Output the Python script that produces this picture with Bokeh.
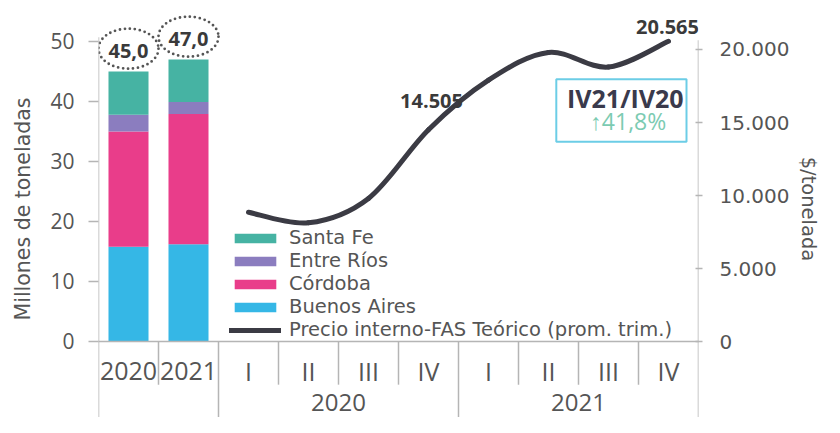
from bokeh.plotting import figure
from bokeh.models import (Range1d, LinearAxis, FixedTicker, Legend, LegendItem,
                          ColumnDataSource)
from bokeh.core.properties import value
from bokeh.embed import file_html
from bokeh.resources import INLINE

# ---------------- data ----------------
bar_years = ["2020", "2021"]
buenos_aires = [15.8, 16.2]
cordoba = [19.2, 21.7]
entre_rios = [2.8, 2.0]
santa_fe = [7.2, 7.1]

quarter_years = ["2020", "2020", "2020", "2020", "2021", "2021", "2021", "2021"]
quarters = ["I", "II", "III", "IV", "I", "II", "III", "IV"]
price = [8850, 8130, 9800, 14505, 17900, 19800, 18800, 20565]

left_ticks = [0, 10, 20, 30, 40, 50]
right_ticks = [0, 5000, 10000, 15000, 20000]
right_tick_labels = ["0", "5.000", "10.000", "15.000", "20.000"]

series_names = ["Buenos Aires", "Córdoba", "Entre Ríos", "Santa Fe"]
series_colors = ["#35b7e6", "#e93d8a", "#8b7dbf", "#46b3a3"]
line_name = "Precio interno-FAS Teórico (prom. trim.)"
line_color = "#3b3b44"

FONT = "Open Sans"
WIDE = "DejaVu Sans"
GREY = "#555555"
DARK = "#3a3a3a"
AXIS = "#b5b5b5"

# ---------------- categories ----------------
cats = [("", y) for y in bar_years] + list(zip(quarter_years, quarters))
ncat = len(cats)
xpos = [i + 0.5 for i in range(ncat)]
bar_x = xpos[:len(bar_years)]
line_x = xpos[len(bar_years):]

Y_BOTTOM = -12.67
p = figure(width=824, height=417, output_backend="svg", toolbar_location=None,
           x_range=Range1d(0, ncat), y_range=Range1d(Y_BOTTOM, 56.83),
           x_axis_location=None, min_border_left=98, min_border_right=126,
           min_border_top=0, min_border_bottom=0)
p.extra_y_ranges = {"price": Range1d(-5205, 23356)}
p.grid.visible = False
p.outline_line_color = None
p.background_fill_color = "white"
p.border_fill_color = "white"

# left axis
la = p.left[0]
la.ticker = FixedTicker(ticks=left_ticks)
la.axis_line_color = None
la.major_tick_line_color = AXIS
la.major_tick_line_width = 1.5
la.major_tick_out = 10
la.major_tick_in = 0
la.minor_tick_line_color = None
la.major_label_standoff = 14
la.major_label_text_font = FONT
la.major_label_text_font_size = "21px"
la.major_label_text_color = GREY
la.axis_label = "Millones de toneladas"
la.axis_label_text_font = WIDE
la.axis_label_text_font_size = "20.5px"
la.axis_label_text_font_style = "normal"
la.axis_label_text_color = GREY
la.axis_label_standoff = 12

# right axis
ra = LinearAxis(y_range_name="price", ticker=FixedTicker(ticks=right_ticks),
                major_label_overrides=dict(zip(right_ticks, right_tick_labels)))
ra.axis_line_color = None
ra.major_tick_line_color = AXIS
ra.major_tick_line_width = 1.5
ra.major_tick_out = 4
ra.major_tick_in = 3
ra.minor_tick_line_color = None
ra.major_label_standoff = 17
ra.major_label_text_font = WIDE
ra.major_label_text_font_size = "20px"
ra.major_label_text_color = GREY
ra.axis_label = "$/tonelada"
ra.axis_label_text_font = WIDE
ra.axis_label_text_font_size = "19.5px"
ra.axis_label_text_font_style = "normal"
ra.axis_label_text_color = GREY
ra.axis_label_standoff = 5
p.add_layout(ra, "right")

# ---------------- bars ----------------
src = ColumnDataSource(dict(x=bar_x, ba=buenos_aires, cba=cordoba,
                            er=entre_rios, sf=santa_fe))
bars = p.vbar_stack(["ba", "cba", "er", "sf"], x="x", width=0.667, source=src,
                    fill_color=series_colors, line_color=None)

totals = [a + b + c + d for a, b, c, d in zip(buenos_aires, cordoba, entre_rios, santa_fe)]
total_labels = [f"{t:.1f}".replace(".", ",") for t in totals]
tot_src = ColumnDataSource(dict(x=bar_x, y=[t + 3.8 for t in totals], t=total_labels))
p.ellipse(x="x", y="y", width=60, height=40, width_units="screen", height_units="screen",
          source=tot_src, fill_color=None, line_color="#555555", line_width=2.8,
          line_dash="0 5", line_cap="round")
p.text(x="x", y="y", text="t", source=tot_src, text_align="center",
       text_baseline="middle", text_font=value(FONT), text_font_size="20px",
       text_font_style="bold", text_color=DARK, y_offset=2)

# ---------------- smoothed price line (bezier through the data points) ----------------
n = len(price)
x0s, y0s, x1s, y1s, cx0s, cy0s, cx1s, cy1s = ([] for _ in range(8))
for i in range(n - 1):
    a = max(i - 1, 0)
    d = min(i + 2, n - 1)
    x0s.append(line_x[i]); y0s.append(price[i])
    x1s.append(line_x[i + 1]); y1s.append(price[i + 1])
    cx0s.append(line_x[i] + (line_x[i + 1] - line_x[a]) / 6)
    cy0s.append(price[i] + (price[i + 1] - price[a]) / 6)
    cx1s.append(line_x[i + 1] - (line_x[d] - line_x[i]) / 6)
    cy1s.append(price[i + 1] - (price[d] - price[i]) / 6)
bz = p.bezier(x0=x0s, y0=y0s, x1=x1s, y1=y1s, cx0=cx0s, cy0=cy0s, cx1=cx1s, cy1=cy1s,
              y_range_name="price", line_color=line_color, line_width=5, line_cap="round")

# value labels
lab_idx = [3, 7]
p.text(x=[line_x[i] for i in lab_idx], y=[price[i] for i in lab_idx],
       text=[f"{price[i]:,}".replace(",", ".") for i in lab_idx],
       y_range_name="price", text_align="center", text_baseline="middle",
       text_font=value(FONT), text_font_size="20px", text_font_style="bold",
       text_color=DARK, x_offset=[3, -1], y_offset=[-29, -14])

# IV21/IV20 box
pct = (price[-1] / price[3] - 1) * 100
p.quad(left=7.63, right=9.8, top=43.7, bottom=33.3, fill_color=None,
       line_color="#6ccde6", line_width=2)
p.text(x=[8.78], y=[40.5], text=["IV21/IV20"], text_align="center",
       text_baseline="middle", text_font=value(FONT), text_font_size="25px",
       text_font_style="bold", text_color="#3a3a4c")
p.text(x=[8.83], y=[36.7], text=[f"\u2191{pct:.1f}%".replace(".", ",")],
       text_align="center", text_baseline="middle", text_font=value(FONT),
       text_font_size="23px", text_color="#7ccbb2")

# ---------------- category axis (drawn) ----------------
short_sep = [i for i in range(1, ncat) if cats[i][0] == cats[i - 1][0]]
group_sep = [i for i in range(1, ncat) if cats[i][0] != cats[i - 1][0]]
edge_sep = [0, ncat]
p.segment(x0=short_sep, x1=short_sep, y0=[0] * len(short_sep), y1=[-7.2] * len(short_sep),
          line_color=AXIS, line_width=1.5)
p.segment(x0=group_sep, x1=group_sep, y0=[0] * len(group_sep), y1=[Y_BOTTOM] * len(group_sep),
          line_color=AXIS, line_width=1.5)
p.segment(x0=edge_sep, x1=edge_sep, y0=[50.7, 50.2], y1=[Y_BOTTOM] * 2,
          line_color=AXIS, line_width=1.5)
p.segment(x0=[-0.17], x1=[ncat + 0.32], y0=[0], y1=[0], line_color=AXIS, line_width=1.5)

p.text(x=xpos, y=[-5.0] * ncat, text=[c[1] for c in cats], text_align="center",
       text_baseline="middle", text_font=value(FONT), text_font_size="25px",
       text_color=GREY)
groups = []
for i, c in enumerate(cats):
    if c[0] and (not groups or groups[-1][0] != c[0]):
        groups.append([c[0], i, i + 1])
    elif c[0]:
        groups[-1][2] = i + 1
p.text(x=[(g[1] + g[2]) / 2 for g in groups], y=[-10.2] * len(groups),
       text=[g[0] for g in groups], text_align="center", text_baseline="middle",
       text_font=value(FONT), text_font_size="24px", text_color=GREY)

# ---------------- legend ----------------
items = [LegendItem(label=series_names[3], renderers=[bars[3]]),
         LegendItem(label=series_names[2], renderers=[bars[2]]),
         LegendItem(label=series_names[1], renderers=[bars[1]]),
         LegendItem(label=series_names[0], renderers=[bars[0]]),
         LegendItem(label=line_name, renderers=[bz])]
legend = Legend(items=items, location=(131, 76), glyph_width=52, glyph_height=12,
                label_standoff=8, label_height=23, spacing=0, padding=0, margin=0,
                label_text_font=WIDE, label_text_font_size="19.5px",
                label_text_color=GREY, border_line_color=None,
                background_fill_alpha=0)
p.add_layout(legend)

open("out.html", "w").write(file_html(p, INLINE))
